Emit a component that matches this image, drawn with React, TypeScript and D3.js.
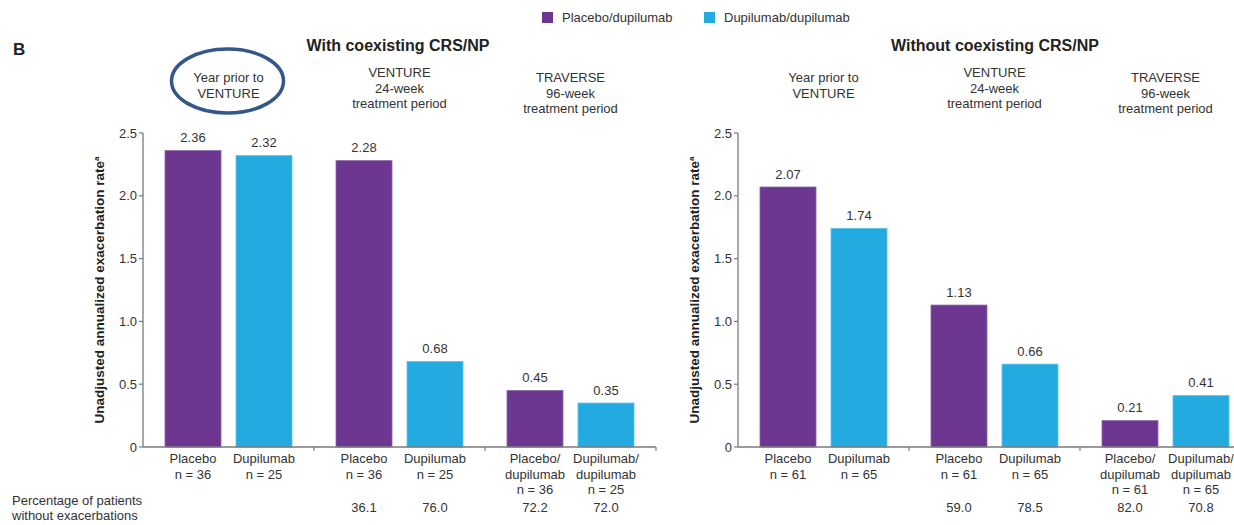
import React from "react";
import * as d3 from "d3";

// ---------- data ----------
const groupKeys = ["prior", "venture", "traverse"];
const headerLines = [
  ["Year prior to", "VENTURE"],
  ["VENTURE", "24-week", "treatment period"],
  ["TRAVERSE", "96-week", "treatment period"],
];
const armKeys = ["placebo", "dupilumab"];
const armNames = ["Placebo/dupilumab", "Dupilumab/dupilumab"];
const armLabels = [
  [["Placebo"], ["Dupilumab"]],
  [["Placebo"], ["Dupilumab"]],
  [["Placebo/", "dupilumab"], ["Dupilumab/", "dupilumab"]],
];
const yTicks = [0, 0.5, 1.0, 1.5, 2.0, 2.5];

const panelTitles = ["With coexisting CRS/NP", "Without coexisting CRS/NP"];
const withPlacebo = [2.36, 2.28, 0.45];
const withDupilumab = [2.32, 0.68, 0.35];
const withN = [36, 25];
const withPctPlacebo = [null, 36.1, 72.2];
const withPctDupilumab = [null, 76.0, 72.0];

const withoutPlacebo = [2.07, 1.13, 0.21];
const withoutDupilumab = [1.74, 0.66, 0.41];
const withoutN = [61, 65];
const withoutPctPlacebo = [null, 59.0, 82.0];
const withoutPctDupilumab = [null, 78.5, 70.8];

// ---------- style / layout ----------
const W = 1234;
const H = 525;
const PURPLE = "#6D3791";
const BLUE = "#23AAE0";
const colors = [PURPLE, BLUE];
const FONT = "'Liberation Sans', Arial, Helvetica, sans-serif";
const TEXT = "#333";
const AXIS = "#7a7a7a";
const groupW = 171;
const yTop = 133;
const yBottom = 447;
const headerBase = [82, 77, 82];
const lineH = 15.5;
const catBase = 463;
const pctBase = 512;

type Panel = {
  title: string;
  titleX: number;
  axisX: number;
  titleYX: number;
  values: number[][];
  n: number[];
  pct: (number | null)[][];
  circle: boolean;
};

const panels: Panel[] = [
  {
    title: panelTitles[0],
    titleX: 398,
    axisX: 143,
    titleYX: 104,
    values: [withPlacebo, withDupilumab],
    n: withN,
    pct: [withPctPlacebo, withPctDupilumab],
    circle: true,
  },
  {
    title: panelTitles[1],
    titleX: 995,
    axisX: 738,
    titleYX: 699,
    values: [withoutPlacebo, withoutDupilumab],
    n: withoutN,
    pct: [withoutPctPlacebo, withoutPctDupilumab],
    circle: false,
  },
];

const y = d3.scaleLinear().domain([0, 2.5]).range([yBottom, yTop]);

function PanelChart({ p }: { p: Panel }) {
  const x0 = d3
    .scaleBand<string>()
    .domain(groupKeys)
    .range([p.axisX, p.axisX + groupW * groupKeys.length])
    .paddingInner(0)
    .paddingOuter(0);
  const x1 = d3
    .scaleBand<string>()
    .domain(armKeys)
    .range([0, groupW])
    .paddingInner(15 / 71)
    .paddingOuter(0.31);
  const axisEnd = p.axisX + groupW * groupKeys.length;

  return (
    <g>
      <text
        x={p.titleX}
        y={51}
        textAnchor="middle"
        fontWeight="bold"
        fontSize={16}
        fill="#222"
      >
        {p.title}
      </text>

      {groupKeys.map((g, gi) => {
        const cx = (x0(g) as number) + groupW / 2;
        return (
          <g key={"h" + g}>
            {headerLines[gi].map((l, li) => (
              <text
                key={li}
                x={cx}
                y={headerBase[gi] + li * lineH}
                textAnchor="middle"
                fontSize={13}
                fill={TEXT}
              >
                {l}
              </text>
            ))}
            {gi === 0 && p.circle && (
              <ellipse
                cx={cx - 1}
                cy={81}
                rx={56}
                ry={32}
                fill="none"
                stroke="#33578A"
                strokeWidth={3.5}
              />
            )}
          </g>
        );
      })}

      {/* y axis title */}
      <text
        transform={`translate(${p.titleYX},${(yTop + yBottom) / 2}) rotate(-90)`}
        textAnchor="middle"
        fontWeight="bold"
        fontSize={13.5}
        fill="#222"
      >
        Unadjusted annualized exacerbation rate
        <tspan fontSize={8} dy={-5}>
          a
        </tspan>
      </text>

      {/* y axis */}
      <line x1={p.axisX} x2={p.axisX} y1={yTop} y2={yBottom} stroke={AXIS} strokeWidth={1.3} />
      {yTicks.map((t) => (
        <g key={"yt" + t}>
          <line x1={p.axisX - 4} x2={p.axisX} y1={y(t)} y2={y(t)} stroke={AXIS} strokeWidth={1.2} />
          <text
            x={p.axisX - 6}
            y={y(t)}
            dy="0.35em"
            textAnchor="end"
            fontSize={13}
            fill={TEXT}
          >
            {t === 0 ? "0" : d3.format(".1f")(t)}
          </text>
        </g>
      ))}

      {/* bars */}
      {groupKeys.map((g, gi) =>
        armKeys.map((a, ai) => {
          const v = p.values[ai][gi];
          const bx = (x0(g) as number) + (x1(a) as number);
          const bw = x1.bandwidth();
          return (
            <g key={g + a}>
              <rect
                x={bx}
                y={y(v)}
                width={bw}
                height={y(0) - y(v)}
                fill={colors[ai]}
                stroke={ai === 0 ? "#8a66a8" : "#5cc2ea"}
                strokeWidth={0.8}
              />
              <text
                x={bx + bw / 2}
                y={y(v) - 8.5}
                textAnchor="middle"
                fontSize={13}
                fill={TEXT}
              >
                {d3.format(".2f")(v)}
              </text>
              {armLabels[gi][ai].map((l, li) => (
                <text
                  key={li}
                  x={bx + bw / 2}
                  y={catBase + li * lineH}
                  textAnchor="middle"
                  fontSize={13}
                  fill={TEXT}
                >
                  {l}
                </text>
              ))}
              <text
                x={bx + bw / 2}
                y={catBase + armLabels[gi][ai].length * lineH}
                textAnchor="middle"
                fontSize={13}
                fill={TEXT}
              >
                {`n = ${p.n[ai]}`}
              </text>
              {p.pct[ai][gi] !== null && (
                <text
                  x={bx + bw / 2}
                  y={pctBase}
                  textAnchor="middle"
                  fontSize={13}
                  fill={TEXT}
                >
                  {(p.pct[ai][gi] as number).toFixed(1)}
                </text>
              )}
            </g>
          );
        })
      )}

      {/* x axis */}
      <line x1={p.axisX} x2={axisEnd} y1={yBottom} y2={yBottom} stroke={AXIS} strokeWidth={1.5} />
      {groupKeys.slice(1).map((g) => (
        <line
          key={"xt" + g}
          x1={x0(g) as number}
          x2={x0(g) as number}
          y1={yBottom}
          y2={yBottom + 4}
          stroke={AXIS}
          strokeWidth={1.2}
        />
      ))}
      <line x1={axisEnd} x2={axisEnd} y1={yBottom} y2={yBottom + 4} stroke={AXIS} strokeWidth={1.2} />
    </g>
  );
}

export default function App() {
  return (
    <svg
      width={W}
      height={H}
      viewBox={`0 0 ${W} ${H}`}
      style={{ position: "absolute", left: 0, top: 0, background: "#fff" }}
      fontFamily={FONT}
    >
      <rect x={0} y={0} width={W} height={H} fill="#fff" />
      <text x={13} y={55} fontWeight="bold" fontSize={17} fill="#222">
        B
      </text>

      {/* legend */}
      {armNames.map((name, i) => {
        const lx = [542, 704][i];
        return (
          <g key={name}>
            <rect x={lx} y={12} width={11} height={11} fill={colors[i]} />
            <text x={lx + 20} y={22} fontSize={13} fill={TEXT}>
              {name}
            </text>
          </g>
        );
      })}

      {panels.map((p, i) => (
        <PanelChart key={i} p={p} />
      ))}

      <text x={12} y={505} fontSize={13} fill={TEXT}>
        Percentage of patients
      </text>
      <text x={12} y={520} fontSize={13} fill={TEXT}>
        without exacerbations
      </text>
    </svg>
  );
}
